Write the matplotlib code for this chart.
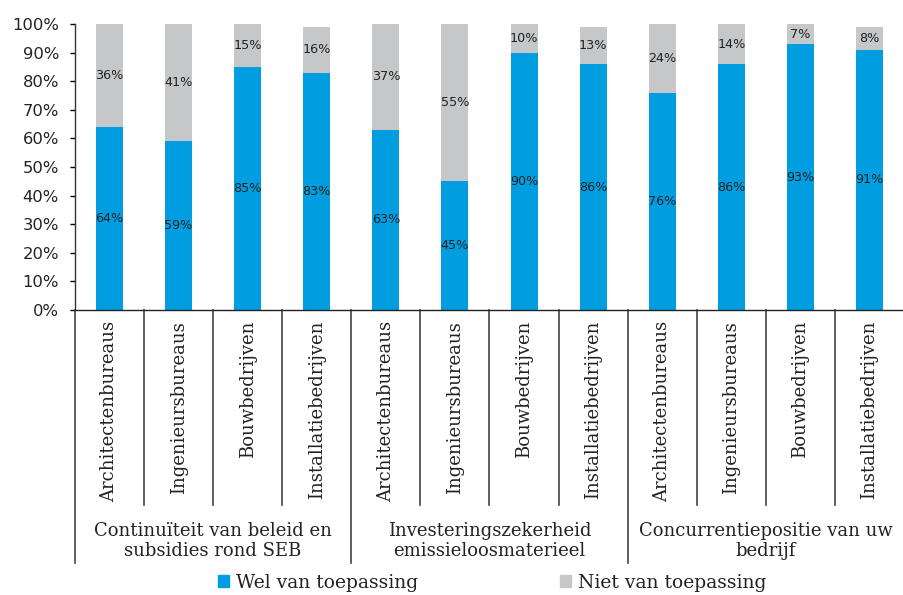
import matplotlib
matplotlib.use("Agg")
import matplotlib.pyplot as plt
import matplotlib.transforms as mtransforms
from matplotlib.patches import Patch

categories = ["Architectenbureaus", "Ingenieursbureaus", "Bouwbedrijven", "Installatiebedrijven"] * 3
groups = ["Continuïteit van beleid en\nsubsidies rond SEB",
          "Investeringszekerheid\nemissieloosmaterieel",
          "Concurrentiepositie van uw\nbedrijf"]
wel = [64, 59, 85, 83, 63, 45, 90, 86, 76, 86, 93, 91]
niet = [36, 41, 15, 16, 37, 55, 10, 13, 24, 14, 7, 8]
yticks = [0, 10, 20, 30, 40, 50, 60, 70, 80, 90, 100]
series_names = ["Wel van toepassing", "Niet van toepassing"]

blue = "#009EE0"
grey = "#C6C7C8"
serif = "DejaVu Serif"
txt = "#222222"

W, H = 904, 595
fig = plt.figure(figsize=(W / 100, H / 100), dpi=100)
ax = fig.add_axes([75 / W, 1 - 310 / H, (904 - 75) / W, (310 - 24) / H])

x = list(range(len(categories)))
bw = 0.39
wel_f = [v / 100 for v in wel]
niet_f = [v / 100 for v in niet]
ax.bar(x, wel_f, width=bw, color=blue, label=series_names[0])
ax.bar(x, niet_f, width=bw, bottom=wel_f, color=grey, label=series_names[1])

for i in x:
    ax.text(i, wel_f[i] / 2, f"{wel[i]}%", ha="center", va="center", fontsize=9.2, color=txt)
    ax.text(i, wel_f[i] + niet_f[i] / 2, f"{niet[i]}%", ha="center", va="center", fontsize=9.2, color=txt)

ax.set_xlim(-0.5, len(categories) - 0.5)
ax.set_ylim(0, 1)
ax.set_yticks([t / 100 for t in yticks])
ax.set_yticklabels([f"{t}%" for t in yticks], fontsize=11.8, color=txt)
ax.tick_params(axis="y", length=3.6, width=1, direction="out", pad=8)
ax.set_xticks([])
for s in ["top", "right"]:
    ax.spines[s].set_visible(False)
ax.spines["left"].set_linewidth(1)
ax.spines["left"].set_color("#333333")
ax.spines["bottom"].set_linewidth(1)
ax.spines["bottom"].set_color("#222222")

trans = mtransforms.blended_transform_factory(ax.transData, fig.transFigure)
def fy(py):
    return 1 - py / H

# separators
for b in range(len(categories) + 1):
    xb = b - 0.5
    y_end = 563 if b % 4 == 0 else 505
    ax.plot([xb, xb], [fy(310), fy(y_end)], transform=trans, color="#444444",
            lw=1.2, clip_on=False)

for i in x:
    ax.text(i, fy(321), categories[i], rotation=90, ha="center", va="top",
            fontsize=13, family=serif, color=txt, transform=trans)

for g, name in enumerate(groups):
    cx = g * 4 + 1.5
    ax.text(cx, fy(541), name, ha="center", va="center", fontsize=13,
            family=serif, color=txt, transform=trans, linespacing=1.2)

for k, (name, col, xc) in enumerate(zip(series_names, [blue, grey], [318, 663])):
    leg = fig.legend([Patch(color=col)], [name], loc="center", bbox_to_anchor=(xc / W, fy(583)),
                     frameon=False, prop={"family": serif, "size": 13.5},
                     handlelength=0.6, handleheight=0.6, handletextpad=0.35,
                     borderpad=0, borderaxespad=0)
    for t in leg.get_texts():
        t.set_color(txt)

fig.savefig("out.png", dpi=100)
